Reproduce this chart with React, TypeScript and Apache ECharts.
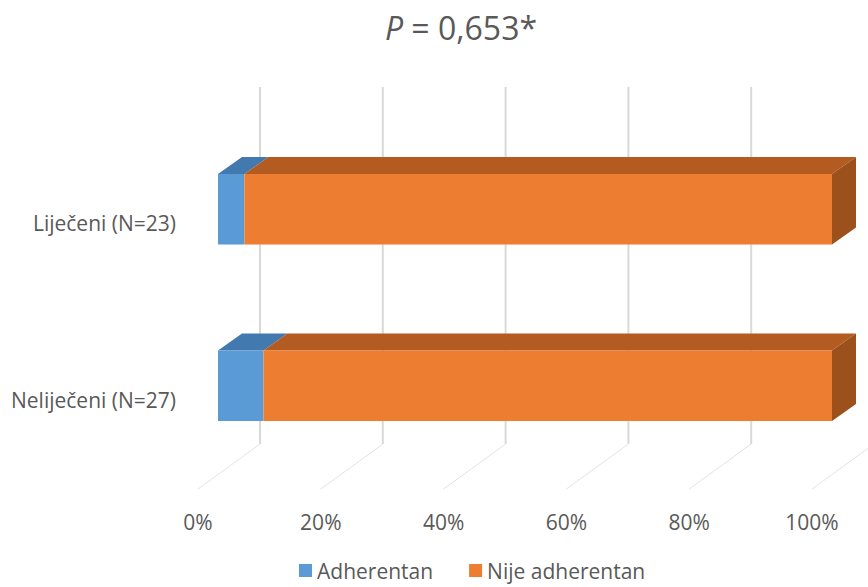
import React, { useEffect, useRef } from "react";
import * as echarts from "echarts";

const categories = ["Liječeni (N=23)", "Neliječeni (N=27)"];
const adherentan = [4.3, 7.4];
const nijeAdherentan = [95.7, 92.6];
const xTicks = [0, 20, 40, 60, 80, 100];
const seriesNames = ["Adherentan", "Nije adherentan"];

const FONT = "'Open Sans', sans-serif";
const TEXT = "#595959";

export default function App() {
  const ref = useRef<HTMLDivElement>(null);
  useEffect(() => {
    if (!ref.current) return;
    const chart = echarts.init(ref.current, undefined, { renderer: "svg" });
    const DX = 24, DY = -17;

    const barRender = (colors: { front: string; top: string; side: string }, last: boolean) =>
      (params: any, api: any) => {
        const start = api.value(0);
        const end = api.value(1);
        const cat = api.value(2);
        const p0 = api.coord([start, cat]);
        const p1 = api.coord([end, cat]);
        const h = api.size([0, 1])[1] * 0.4;
        const yT = p0[1] - h / 2;
        const yB = p0[1] + h / 2;
        const x0 = p0[0], x1 = p1[0];
        const children: any[] = [
          {
            type: "polygon",
            shape: { points: [[x0, yT], [x1, yT], [x1 + DX, yT + DY], [x0 + DX, yT + DY]] },
            style: { fill: colors.top },
          },
          {
            type: "rect",
            shape: { x: x0, y: yT, width: x1 - x0, height: h },
            style: { fill: colors.front },
          },
        ];
        if (last) {
          children.push({
            type: "polygon",
            shape: { points: [[x1, yT], [x1 + DX, yT + DY], [x1 + DX, yB + DY], [x1, yB]] },
            style: { fill: colors.side },
          });
        }
        return { type: "group", children };
      };

    const gridRender = (params: any, api: any) => {
      const v = api.value(0);
      const cs = params.coordSys;
      const x = api.coord([v, 0])[0];
      const bottom = cs.y + cs.height;
      const bx = x + 42;
      const by = bottom - 30;
      return {
        type: "group",
        children: [
          {
            type: "line",
            shape: { x1: bx, y1: cs.y - 34, x2: bx, y2: by },
            style: { stroke: "#d9d9d9", lineWidth: 2 },
          },
          {
            type: "line",
            shape: { x1: bx, y1: by, x2: x - 20, y2: bottom + 15 },
            style: { stroke: "#e3e3e3", lineWidth: 1 },
          },
        ],
      };
    };

    chart.setOption({
      animation: false,
      textStyle: { fontFamily: FONT },
      graphic: [
        {
          type: "text",
          x: 461,
          y: 27,
          style: {
            text: "{i|P} = 0,653*",
            textAlign: "center",
            textVerticalAlign: "middle",
            rich: {
              i: { fontStyle: "italic", fontSize: 32, fontFamily: FONT, fill: TEXT },
            },
            fontSize: 32,
            fontFamily: FONT,
            fill: TEXT,
          },
        },
      ],
      legend: {
        data: seriesNames,
        left: 294,
        top: 555,
        itemWidth: 13,
        itemHeight: 13,
        itemGap: 36,
        icon: "rect",
        textStyle: { fontSize: 21, color: TEXT, fontFamily: FONT, padding: [0, 0, 0, 0] },
      },
      grid: [
        { left: 218, width: 614, top: 121, height: 353 },
        { left: 198, width: 614, top: 135, height: 353 },
      ],
      xAxis: [
        { type: "value", gridIndex: 0, min: 0, max: 100, interval: 20, show: false },
        {
          type: "value",
          gridIndex: 1,
          min: 0,
          max: 100,
          interval: 20,
          axisLine: { show: false },
          axisTick: { show: false },
          splitLine: { show: false },
          axisLabel: { formatter: "{value}%", fontSize: 21, color: TEXT, fontFamily: FONT, margin: 23 },
        },
      ],
      yAxis: [
        { type: "category", gridIndex: 0, data: categories, inverse: true, show: false },
        {
          type: "category",
          gridIndex: 1,
          data: categories,
          inverse: true,
          axisLine: { show: false },
          axisTick: { show: false },
          splitLine: { show: false },
          axisLabel: { fontSize: 21, color: TEXT, fontFamily: FONT, margin: 22 },
        },
      ],
      series: [
        {
          type: "custom",
          name: "grid",
          xAxisIndex: 0,
          yAxisIndex: 0,
          silent: true,
          renderItem: gridRender,
          data: xTicks.map((t) => [t]),
          encode: { x: 0 },
          z: 1,
        },
        {
          type: "custom",
          name: seriesNames[0],
          xAxisIndex: 0,
          yAxisIndex: 0,
          itemStyle: { color: "#5b9bd5" },
          renderItem: barRender({ front: "#5b9bd5", top: "#4279ae", side: "#41719c" }, false),
          data: adherentan.map((v, i) => [0, v, i]),
          encode: { x: [0, 1], y: 2 },
          z: 2,
        },
        {
          type: "custom",
          name: seriesNames[1],
          xAxisIndex: 0,
          yAxisIndex: 0,
          itemStyle: { color: "#ed7d31" },
          renderItem: barRender({ front: "#ed7d31", top: "#b45b22", side: "#9c501c" }, true),
          data: nijeAdherentan.map((v, i) => [adherentan[i], adherentan[i] + v, i]),
          encode: { x: [0, 1], y: 2 },
          z: 2,
        },
      ],
    });
    return () => chart.dispose();
  }, []);
  return <div ref={ref} style={{ width: 868, height: 587, position: "absolute", left: 0, top: 0 }} />;
}
